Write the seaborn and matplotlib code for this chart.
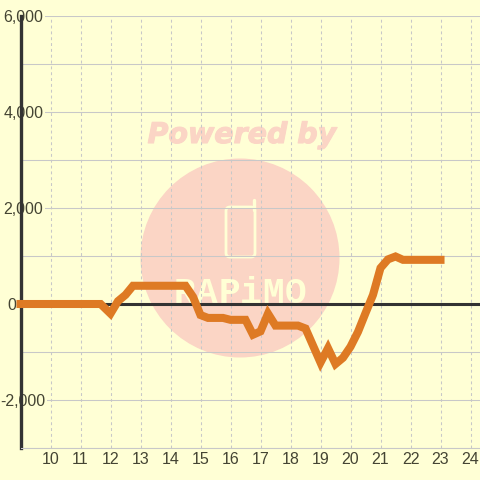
import matplotlib

matplotlib.use("Agg")
import matplotlib.patheffects as pe
import matplotlib.pyplot as plt
import pandas as pd
import seaborn as sns
from matplotlib.patches import Circle, FancyBboxPatch
from matplotlib.transforms import Affine2D

hours = [9, 11.67, 12, 12.25, 12.5, 12.75, 14.5, 14.75, 15, 15.25, 15.75, 16, 16.5,
         16.75, 17, 17.25, 17.5, 18.25, 18.5, 19, 19.25, 19.5, 19.75, 20, 20.25,
         20.5, 20.75, 21, 21.25, 21.5, 21.75, 23]
values = [0, 0, -200, 60, 190, 380, 380, 150, -230, -290, -290, -330, -330,
          -640, -570, -200, -450, -450, -510, -1220, -920, -1250, -1120, -890, -580,
          -190, 190, 750, 930, 990, 920, 920]
x_ticks = list(range(10, 25))
y_labelled = [-2000, 0, 2000, 4000, 6000]
y_lines = [-3000, -2000, -1000, 0, 1000, 2000, 3000, 4000, 5000, 6000]
logo_letters = ["R", "A", "P", "i", "M", "O"]
logo_centres = [184, 207, 229, 251, 273, 296]

BG = "#FFFFD5"
GRID = "#C8C8C8"
DARK = "#333333"
TEXT = "#444433"
ORANGE = "#DE7A24"
PINK = "#FBD5C5"

sns.set_theme(style="white", rc={"font.family": ["Liberation Sans", "DejaVu Sans"]})
fig = plt.figure(figsize=(4.8, 4.8), dpi=100, facecolor=BG)
ax = fig.add_axes([20.5 / 480, 32 / 480, 459.5 / 480, 432 / 480], facecolor=BG)

df = pd.DataFrame({"hour": hours, "value": values})
sns.lineplot(data=df, x="hour", y="value", ax=ax, color=ORANGE, linewidth=5.8,
             solid_capstyle="projecting", solid_joinstyle="miter", zorder=5, clip_on=False)

ax.set_xlim(9, 9 + 459.5 / 30)
ax.set_ylim(-3000, 6000)
ax.set_xlabel("")
ax.set_ylabel("")
ax.set_xticks(x_ticks)
ax.set_yticks(y_labelled)
ax.set_yticklabels([f"{v:,}" for v in y_labelled])
ax.set_yticks(y_lines, minor=True)
ax.grid(True, axis="y", which="both", color=GRID, linewidth=0.75)
ax.grid(True, axis="x", color=GRID, linewidth=0.75, linestyle=(0, (2.8, 2.8)))
ax.set_axisbelow(True)
ax.axhline(0, color=DARK, linewidth=2.2, zorder=4)

for side in ["top", "right"]:
    ax.spines[side].set_visible(False)
ax.spines["left"].set_color(DARK)
ax.spines["left"].set_linewidth(2.4)
ax.spines["bottom"].set_color(GRID)
ax.spines["bottom"].set_linewidth(0.75)

ax.tick_params(axis="x", which="both", length=0, pad=3, labelsize=11.5, labelcolor=TEXT)
ax.tick_params(axis="y", which="both", length=0, labelsize=11.5, labelcolor=TEXT)
for tick, v in zip(ax.yaxis.get_major_ticks(), y_labelled):
    # the -2,000 label sits a touch further in so the minus stays on the canvas
    tick.set_pad(3.2 if v == 0 else (-18 if v < 0 else -16.5))
    if v != 0:
        tick.label1.set_bbox(dict(facecolor=BG, edgecolor="none", pad=1))

# watermark, placed in pixels from the top left corner
px = Affine2D().scale(1 / 480, -1 / 480).translate(0, 1) + fig.transFigure
ax.add_patch(Circle((240, 258), 99.5, transform=px, facecolor=PINK, edgecolor="none", zorder=0.1))
ax.add_patch(FancyBboxPatch((226, 207), 29, 50, boxstyle="round,pad=0,rounding_size=4", transform=px,
                            facecolor="none", edgecolor=BG, linewidth=2, zorder=0.2))
ax.plot([254, 254], [200, 210], transform=px, color=BG, linewidth=2.4, solid_capstyle="round", zorder=0.2)
ax.text(242, 135, "Powered by", transform=px, color=PINK, fontsize=20.5, family="DejaVu Sans",
        fontweight="bold", style="italic", ha="center", va="center", zorder=0.2,
        path_effects=[pe.withStroke(linewidth=0.8, foreground=PINK)])
for letter, centre in zip(logo_letters, logo_centres):
    ax.text(centre, 303, letter, transform=px, color=BG, fontsize=26, family="Liberation Mono",
            fontweight="bold", ha="center", va="baseline", zorder=0.2)

fig.savefig("out.png", dpi=100, facecolor=BG)
